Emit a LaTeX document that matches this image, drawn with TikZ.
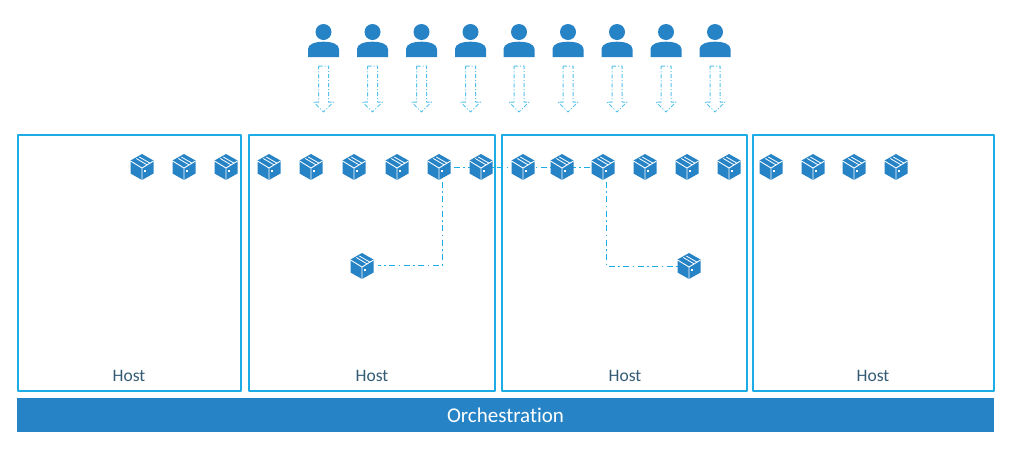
\documentclass[tikz,border=0pt]{standalone}
\usepackage{fontspec}
\setmainfont[Ligatures=NoCommon]{Carlito}
\definecolor{barblue}{HTML}{2683C6}
\definecolor{lineblue}{HTML}{1CADE4}
\definecolor{hosttext}{HTML}{335B74}
\tikzset{
  hostbox/.style={draw=lineblue,line width=2pt,fill=white,line join=round},
  hostlabel/.style={text=hosttext,font=\fontsize{17.5}{20}\selectfont,inner sep=0pt},
  barbox/.style={fill=barblue,text=white,font=\fontsize{21}{24}\selectfont,inner sep=0pt},
  anchorbox/.style={inner sep=0pt,minimum width=24pt,minimum height=26pt},
  link/.style={draw=lineblue,line width=1pt,dash pattern=on 6pt off 3.5pt on 1.5pt off 3.5pt},
  blockarrow/.style={draw=lineblue!75,line width=1pt,dash pattern=on 4pt off 2pt on 1pt off 2pt,line join=round},
  cubeicon/.pic={
    \fill[barblue] (0,-13) -- (11.5,-6.5) -- (11.5,6.5) -- (0,13) -- (-11.5,6.5) -- (-11.5,-6.5) -- cycle;
    \draw[white,line width=0.9pt] (-11.5,-6) -- (0,1) -- (11.5,-6) (0,1) -- (0,13);
    \draw[white,line width=0.8pt] (-5.7,-8.5) -- (5,-2.2) (-2.7,-10) -- (7.7,-4);
    \fill[white] (2,2.5) rectangle (4,5);
  },
  personicon/.pic={
    \fill[barblue] (0,-22) circle (8);
    \fill[barblue] (-15.5,3) -- (-15.5,-5) .. controls (-15.5,-10) and (-8,-12.3) .. (0,-12.3) .. controls (8,-12.3) and (15.5,-10) .. (15.5,-5) -- (15.5,3) -- cycle;
  },
  arrowicon/.pic={
    \draw[blockarrow] (-5,-23) -- (5,-23) -- (5,13) -- (10,13) -- (0,23) -- (-10,13) -- (-5,13) -- cycle;
  }
}
\newcommand{\cubeat}[3]{\node[anchorbox] (#1) at (#2,#3) {}; \pic at (#1) {cubeicon};}
\newcommand{\personat}[2]{%
  \node[inner sep=0pt,minimum width=31pt,minimum height=33pt] (p#1) at (#2,41) {};
  \pic at (#2,54) {personicon};
  \node[inner sep=0pt,minimum width=20pt,minimum height=46pt] (a#1) at (#2,89) {};
  \pic at (a#1) {arrowicon};}
\begin{document}
\begin{tikzpicture}[x=1pt,y=-1pt]
\useasboundingbox (0,0) rectangle (1019,448);
% hosts
\draw[hostbox] (18,135) rectangle (241,391);
\draw[hostbox] (249,135) rectangle (495,391);
\draw[hostbox] (502,135) rectangle (747,391);
\draw[hostbox] (753,135) rectangle (994,391);
\node[hostlabel] (h1) at (129,376) {Host};
\node[hostlabel] (h2) at (372,376) {Host};
\node[hostlabel] (h3) at (625,376) {Host};
\node[hostlabel] (h4) at (873,376) {Host};
% orchestration
\node[barbox,minimum width=977pt,minimum height=34pt] (orch) at (505.5,415) {Orchestration};
% users
\personat{1}{323.5}\personat{2}{372.5}\personat{3}{421.5}\personat{4}{470.5}\personat{5}{519}
\personat{6}{568}\personat{7}{617}\personat{8}{666}\personat{9}{715}
% containers
\coordinate (la) at (442,265);
\coordinate (lb) at (606,266);
\coordinate (ca) at (442,167);
\coordinate (cb) at (606,167);
\coordinate (lend) at (378,265);
\node[anchorbox] (c8pos) at (439,167) {};
\node[anchorbox] (c12pos) at (603,167) {};
\node[anchorbox] (l2pos) at (689,266) {};
\draw[link] (c8pos.center) -- (c12pos.center);
\draw[link] (ca) -- (la) -- (lend);
\draw[link] (cb) -- (lb) -- (l2pos.center);
\cubeat{c1}{142}{167}\cubeat{c2}{184}{167}\cubeat{c3}{226}{167}
\cubeat{c4}{269}{167}\cubeat{c5}{311}{167}\cubeat{c6}{354}{167}\cubeat{c7}{397}{167}\cubeat{c8}{439}{167}\cubeat{c9}{481}{167}
\cubeat{c10}{523}{167}\cubeat{c11}{562}{167}\cubeat{c12}{603}{167}\cubeat{c13}{645}{167}\cubeat{c14}{687}{167}\cubeat{c15}{729}{167}
\cubeat{c16}{771}{167}\cubeat{c17}{813}{167}\cubeat{c18}{854}{167}\cubeat{c19}{896}{167}
\cubeat{l1}{362}{266}\cubeat{l2}{689}{266}
\end{tikzpicture}
\end{document}
